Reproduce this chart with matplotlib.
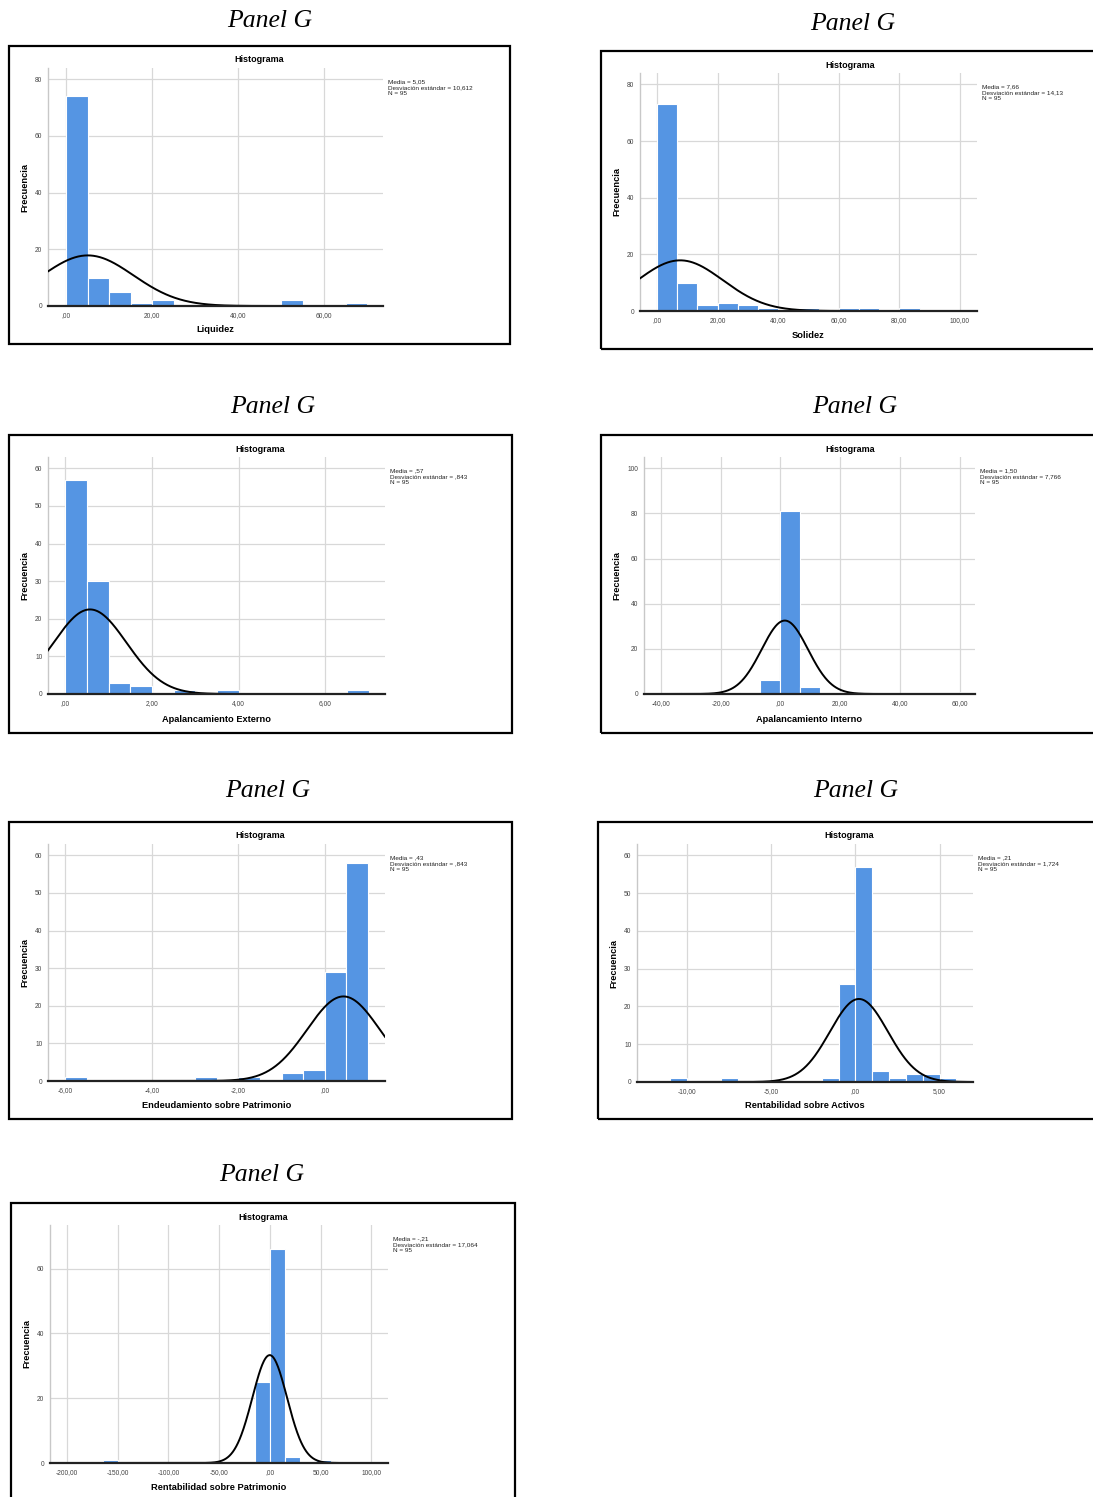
import numpy as np
import matplotlib
matplotlib.use('Agg')
import matplotlib.pyplot as plt
from matplotlib.patches import Rectangle

W, H, DPI = 1093, 1497, 100

# ---------------- data ----------------
liq_counts = [74, 10, 5, 1, 2, 0, 0, 0, 0, 0, 2, 0, 0, 1]
liq_start, liq_width = 0.0, 5.0
liq_stats = (5.05, 10.612, 95)

sol_counts = [73, 10, 2, 3, 2, 1, 0, 1, 0, 1, 1, 0, 1]
sol_start, sol_width = 0.0, 20.0 / 3
sol_stats = (7.66, 14.13, 95)

ext_counts = [57, 30, 3, 2, 0, 1, 0, 1, 0, 0, 0, 0, 0, 1]
ext_start, ext_width = 0.0, 0.5
ext_stats = (0.57, 0.843, 95)

int_counts = [1, 0, 0, 1, 6, 81, 3, 1, 1, 0, 0, 0, 0, 0, 1]
int_start, int_width = -100.0 / 3, 20.0 / 3
int_stats = (1.50, 7.766, 95)

end_counts = [1, 0, 0, 0, 0, 0, 1, 0, 1, 0, 2, 3, 29, 58]
end_start, end_width = -6.0, 0.5
end_stats = (0.43, 0.843, 95)

roa_counts = [1, 0, 0, 1, 0, 0, 0, 0, 0, 1, 26, 57, 3, 1, 2, 2, 1]
roa_start, roa_width = -11.0, 1.0
roa_stats = (0.21, 1.724, 95)

roe_counts = [1, 0, 0, 0, 0, 0, 0, 0, 0, 0, 25, 66, 2, 0, 1]
roe_start, roe_width = -165.0, 15.0
roe_stats = (-0.21, 17.064, 95)

x_labels = ["Liquidez", "Solidez", "Apalancamiento Externo", "Apalancamiento Interno",
            "Endeudamiento sobre Patrimonio", "Rentabilidad sobre Activos",
            "Rentabilidad sobre Patrimonio"]
stat_texts = [
    "Media = 5,05\nDesviación estándar = 10,612\nN = 95",
    "Media = 7,66\nDesviación estándar = 14,13\nN = 95",
    "Media = ,57\nDesviación estándar = ,843\nN = 95",
    "Media = 1,50\nDesviación estándar = 7,766\nN = 95",
    "Media = ,43\nDesviación estándar = ,843\nN = 95",
    "Media = ,21\nDesviación estándar = 1,724\nN = 95",
    "Media = -,21\nDesviación estándar = 17,064\nN = 95",
]
x_ticks = [
    [0, 20, 40, 60],
    [0, 20, 40, 60, 80, 100],
    [0, 2, 4, 6],
    [-40, -20, 0, 20, 40, 60],
    [-6, -4, -2, 0],
    [-10, -5, 0, 5],
    [-200, -150, -100, -50, 0, 50, 100],
]
y_ticks = [
    [0, 20, 40, 60, 80],
    [0, 20, 40, 60, 80],
    [0, 10, 20, 30, 40, 50, 60],
    [0, 20, 40, 60, 80, 100],
    [0, 10, 20, 30, 40, 50, 60],
    [0, 10, 20, 30, 40, 50, 60],
    [0, 20, 40, 60],
]
panel_title = "Panel G"

# ---------------- layout (pixels) ----------------
layout = [
    dict(box=(9, 46, 510, 344), ax=(48, 68, 383, 306), xlim=(-4.2, 73.7), ylim=(0, 84), title=(270, 20)),
    dict(box=(601, 51, 1110, 349), ax=(640, 73, 977, 311), xlim=(-5.6, 105.6), ylim=(0, 84), title=(853, 23)),
    dict(box=(9, 435, 512, 733), ax=(48, 457, 385, 694), xlim=(-0.4, 7.38), ylim=(0, 63), title=(273, 406)),
    dict(box=(601, 435, 1110, 733), ax=(644, 457, 975, 694), xlim=(-45.6, 65.1), ylim=(0, 105), title=(855, 406)),
    dict(box=(9, 822, 512, 1119), ax=(48, 844, 385, 1081), xlim=(-6.4, 1.39), ylim=(0, 63), title=(268, 790)),
    dict(box=(598, 822, 1110, 1119), ax=(637, 844, 973, 1082), xlim=(-12.98, 6.99), ylim=(0, 63), title=(856, 790)),
    dict(box=(11, 1203, 515, 1520), ax=(50, 1225, 388, 1463), xlim=(-216.8, 116.4), ylim=(0, 73.5), title=(262, 1174)),
]

hist_data = [
    (liq_counts, liq_start, liq_width, liq_stats),
    (sol_counts, sol_start, sol_width, sol_stats),
    (ext_counts, ext_start, ext_width, ext_stats),
    (int_counts, int_start, int_width, int_stats),
    (end_counts, end_start, end_width, end_stats),
    (roa_counts, roa_start, roa_width, roa_stats),
    (roe_counts, roe_start, roe_width, roe_stats),
]

BAR = '#5595e3'
SANS = ['Liberation Sans', 'DejaVu Sans']
SERIF = ['Liberation Serif', 'DejaVu Serif']


def fx(x):
    return x / W


def fy(y):
    return 1 - y / H


def fmt(v):
    s = f"{abs(v):.2f}".replace('.', ',')
    if s.startswith('0,'):
        s = s[1:]
    return ('-' if v < 0 else '') + s


fig = plt.figure(figsize=(W / DPI, H / DPI), dpi=DPI)
fig.patch.set_facecolor('white')

for i, (lay, (counts, start, width, stats)) in enumerate(zip(layout, hist_data)):
    L, T, R, B = lay['box']
    fig.patches.append(Rectangle((fx(L), fy(B)), fx(R - L), (B - T) / H,
                                 transform=fig.transFigure, fill=False,
                                 edgecolor='black', linewidth=1.6))
    tx, ty = lay['title']
    fig.text(fx(tx), fy(ty + 1), panel_title, ha='center', va='center',
             family=SERIF, style='italic', fontsize=18.5)

    al, at, ar, ab = lay['ax']
    ax = fig.add_axes([fx(al), fy(ab), (ar - al) / W, (ab - at) / H])
    counts = np.asarray(counts, dtype=float)
    lefts = start + width * np.arange(len(counts))
    ax.bar(lefts, counts, width=width, align='edge', color=BAR,
           edgecolor='white', linewidth=0.8, zorder=2)
    mean, sd, n = stats
    xs = np.linspace(lay['xlim'][0], lay['xlim'][1], 600)
    ys = n * width * np.exp(-0.5 * ((xs - mean) / sd) ** 2) / (sd * np.sqrt(2 * np.pi))
    ax.plot(xs, ys, color='black', linewidth=1.4, zorder=3, clip_on=True)

    ax.set_xlim(*lay['xlim'])
    ax.set_ylim(*lay['ylim'])
    ax.set_xticks(x_ticks[i])
    ax.set_xticklabels([fmt(v) for v in x_ticks[i]], family=SANS, fontsize=4.8, color='#444444')
    ax.set_yticks(y_ticks[i])
    ax.set_yticklabels([str(v) for v in y_ticks[i]], family=SANS, fontsize=4.8, color='#444444')
    ax.tick_params(length=0, pad=4)
    ax.grid(True, color='#d8d8d8', linewidth=0.9, zorder=0)
    ax.set_axisbelow(True)
    for s in ('top', 'right'):
        ax.spines[s].set_visible(False)
    ax.spines['left'].set_color('#c8c8c8')
    ax.spines['left'].set_linewidth(1.0)
    ax.spines['bottom'].set_color('#222222')
    ax.spines['bottom'].set_linewidth(1.6)
    ax.spines['bottom'].set_zorder(4)
    ax.set_facecolor('white')

    fig.text(fx((L + min(R, 1100)) / 2), fy(T + 14), "Histograma",
             ha='center', va='center', family=SANS, fontweight='bold', fontsize=6.5)
    fig.text(fx(ar + 5), fy(T + 33), stat_texts[i], ha='left', va='top',
             family=SANS, fontsize=4.6, linespacing=1.3, color='#222222')
    fig.text(fx((al + ar) / 2), fy(T + 284), x_labels[i], ha='center', va='center',
             family=SANS, fontweight='bold', fontsize=6.7)
    fig.text(fx(L + 16), fy((at + ab) / 2), "Frecuencia", rotation=90,
             ha='center', va='center', family=SANS, fontweight='bold', fontsize=6.7)

fig.savefig('out.png', dpi=DPI, facecolor='white')
